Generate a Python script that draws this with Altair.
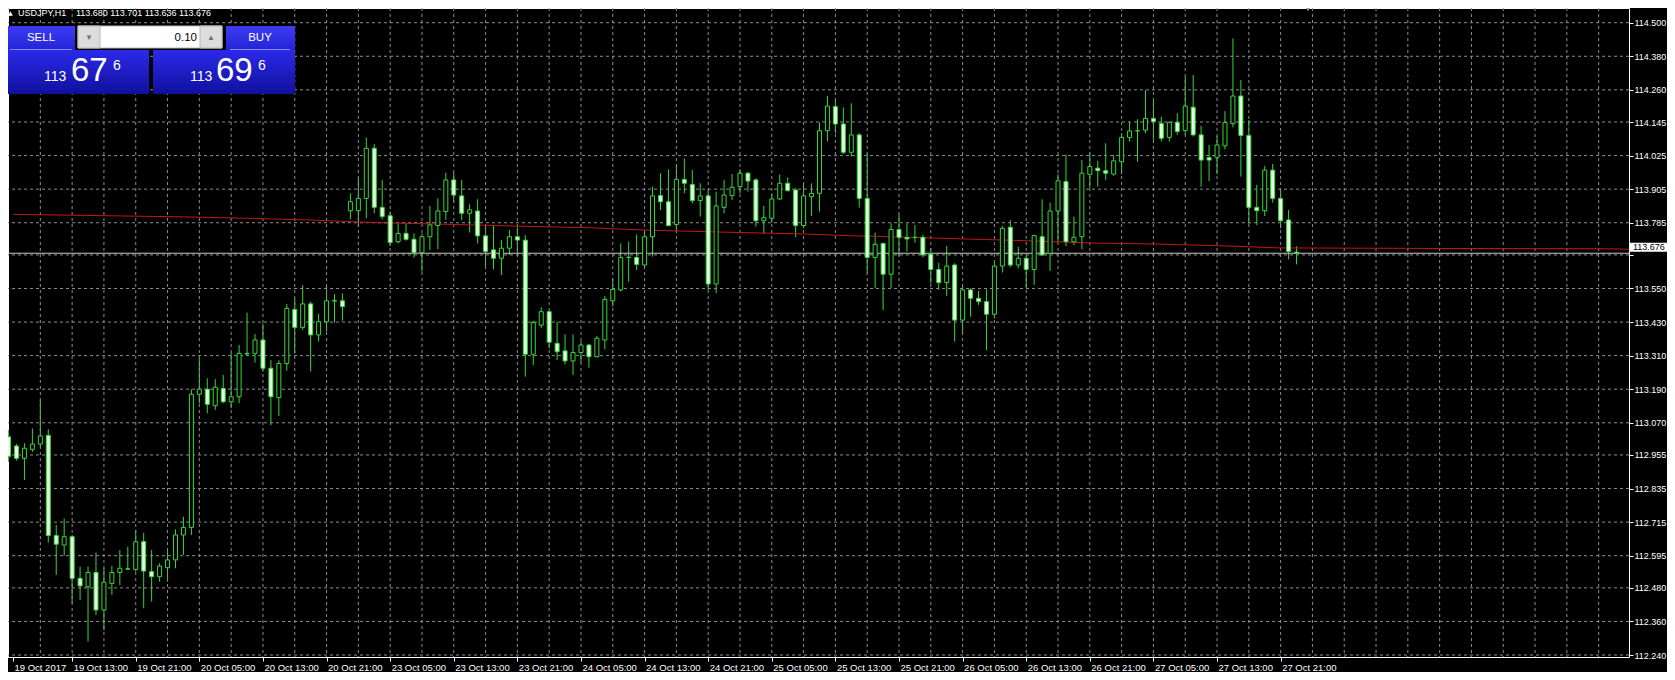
import json
import altair as alt
import pandas as pd

# ---------------- data ----------------
opens = [113.020, 112.987, 112.943, 112.975, 112.994, 113.025, 112.667, 112.633, 112.663, 112.514,
         112.484, 112.535, 112.401, 112.496, 112.535, 112.548, 112.546, 112.645, 112.538, 112.520,
         112.552, 112.580, 112.669, 112.696, 113.172, 113.190, 113.131, 113.193, 113.145, 113.163,
         113.318, 113.318, 113.366, 113.265, 113.160, 113.282, 113.475, 113.411, 113.495, 113.384,
         113.431, 113.505, 113.506, 113.828, 113.828, 113.872, 114.051, 113.840, 113.810, 113.717,
         113.747, 113.726, 113.678, 113.735, 113.775, 113.825, 113.938, 113.881, 113.819, 113.827,
         113.738, 113.688, 113.658, 113.694, 113.735, 113.723, 113.315, 113.419, 113.467, 113.354,
         113.327, 113.291, 113.321, 113.348, 113.306, 113.366, 113.506, 113.545, 113.661, 113.661,
         113.634, 113.735, 113.882, 113.860, 113.779, 113.940, 113.922, 113.864, 113.881, 113.566,
         113.840, 113.882, 113.914, 113.962, 113.938, 113.792, 113.801, 113.870, 113.926, 113.902,
         113.775, 113.878, 113.890, 114.114, 114.200, 114.138, 114.037, 114.099, 113.872, 113.661,
         113.711, 113.601, 113.761, 113.733, 113.732, 113.733, 113.673, 113.618, 113.571, 113.634,
         113.437, 113.545, 113.515, 113.503, 113.458, 113.630, 113.769, 113.634, 113.658, 113.618,
         113.735, 113.676, 113.827, 113.932, 113.717, 113.735, 113.958, 113.980, 113.971, 113.959,
         114.003, 114.090, 114.113, 114.116, 114.158, 114.140, 114.090, 114.144, 114.114, 114.198,
         114.099, 114.018, 114.019, 114.060, 114.140, 114.238, 114.097, 113.840, 113.828, 113.973,
         113.872, 113.795, 113.680]
highs = [113.045, 112.994, 112.997, 113.050, 113.151, 113.047, 112.705, 112.728, 112.669, 112.556,
         112.556, 112.606, 112.550, 112.558, 112.615, 112.627, 112.687, 112.677, 112.615, 112.568,
         112.615, 112.689, 112.734, 113.190, 113.300, 113.229, 113.226, 113.241, 113.321, 113.348,
         113.464, 113.387, 113.425, 113.294, 113.294, 113.495, 113.515, 113.562, 113.503, 113.459,
         113.560, 113.530, 113.533, 113.890, 113.944, 114.090, 114.066, 113.938, 113.825, 113.780,
         113.780, 113.747, 113.747, 113.845, 113.872, 113.964, 113.964, 113.938, 113.851, 113.869,
         113.773, 113.773, 113.723, 113.759, 113.769, 113.741, 113.435, 113.483, 113.471, 113.431,
         113.386, 113.386, 113.362, 113.352, 113.380, 113.523, 113.586, 113.711, 113.717, 113.743,
         113.753, 113.914, 113.962, 113.976, 113.991, 114.015, 113.974, 113.926, 113.902, 113.896,
         113.938, 113.959, 113.976, 113.967, 113.944, 113.845, 113.890, 113.958, 113.947, 113.908,
         113.926, 113.926, 114.143, 114.238, 114.224, 114.197, 114.212, 114.105, 114.033, 113.750,
         113.714, 113.783, 113.815, 113.783, 113.777, 113.742, 113.694, 113.642, 113.702, 113.640,
         113.557, 113.551, 113.542, 113.547, 113.642, 113.773, 113.795, 113.699, 113.666, 113.742,
         113.869, 113.857, 113.959, 114.029, 113.807, 114.009, 114.033, 114.006, 114.069, 114.027,
         114.105, 114.146, 114.155, 114.259, 114.224, 114.164, 114.146, 114.176, 114.307, 114.313,
         114.131, 114.063, 114.095, 114.184, 114.444, 114.295, 114.152, 113.920, 113.988, 113.995,
         113.900, 113.831, 113.701]
lows = [112.930, 112.935, 112.866, 112.966, 112.985, 112.642, 112.526, 112.595, 112.425, 112.437,
        112.288, 112.383, 112.329, 112.455, 112.490, 112.544, 112.538, 112.407, 112.431, 112.502,
        112.502, 112.550, 112.598, 112.669, 113.139, 113.104, 113.116, 113.140, 113.122, 113.140,
        113.309, 113.285, 113.253, 113.062, 113.094, 113.256, 113.318, 113.402, 113.253, 113.360,
        113.396, 113.428, 113.435, 113.797, 113.771, 113.801, 113.819, 113.797, 113.702, 113.711,
        113.721, 113.660, 113.610, 113.688, 113.690, 113.795, 113.860, 113.795, 113.750, 113.711,
        113.630, 113.618, 113.598, 113.670, 113.676, 113.235, 113.276, 113.408, 113.336, 113.294,
        113.279, 113.241, 113.285, 113.267, 113.304, 113.333, 113.485, 113.539, 113.574, 113.616,
        113.628, 113.664, 113.830, 113.771, 113.753, 113.890, 113.854, 113.807, 113.545, 113.533,
        113.819, 113.866, 113.890, 113.896, 113.771, 113.745, 113.785, 113.866, 113.896, 113.733,
        113.765, 113.809, 113.825, 114.075, 114.105, 114.031, 114.021, 113.839, 113.604, 113.551,
        113.473, 113.551, 113.664, 113.682, 113.714, 113.661, 113.568, 113.545, 113.523, 113.360,
        113.390, 113.449, 113.491, 113.330, 113.443, 113.607, 113.626, 113.622, 113.551, 113.563,
        113.666, 113.613, 113.717, 113.702, 113.705, 113.690, 113.910, 113.914, 113.938, 113.953,
        113.959, 114.075, 114.003, 114.105, 114.081, 114.075, 114.075, 114.099, 114.099, 114.093,
        113.914, 113.934, 113.959, 114.047, 114.126, 113.950, 113.781, 113.777, 113.809, 113.857,
        113.765, 113.654, 113.636]
closes = [112.950, 112.943, 112.979, 112.994, 113.023, 112.667, 112.636, 112.663, 112.514, 112.487,
          112.535, 112.401, 112.500, 112.535, 112.550, 112.547, 112.645, 112.540, 112.520, 112.558,
          112.580, 112.669, 112.696, 113.172, 113.190, 113.136, 113.197, 113.145, 113.163, 113.318,
          113.316, 113.366, 113.265, 113.163, 113.282, 113.479, 113.411, 113.495, 113.384, 113.431,
          113.506, 113.507, 113.485, 113.860, 113.872, 114.051, 113.840, 113.807, 113.714, 113.747,
          113.726, 113.678, 113.735, 113.777, 113.827, 113.938, 113.884, 113.819, 113.831, 113.738,
          113.682, 113.658, 113.694, 113.735, 113.723, 113.315, 113.428, 113.467, 113.358, 113.324,
          113.291, 113.321, 113.348, 113.306, 113.372, 113.511, 113.547, 113.661, 113.662, 113.636,
          113.735, 113.881, 113.860, 113.775, 113.940, 113.926, 113.864, 113.881, 113.566, 113.845,
          113.884, 113.912, 113.962, 113.934, 113.792, 113.803, 113.870, 113.926, 113.900, 113.775,
          113.881, 113.890, 114.114, 114.202, 114.138, 114.037, 114.099, 113.872, 113.661, 113.708,
          113.601, 113.761, 113.733, 113.727, 113.733, 113.670, 113.618, 113.571, 113.630, 113.437,
          113.545, 113.515, 113.503, 113.458, 113.630, 113.765, 113.634, 113.658, 113.618, 113.739,
          113.670, 113.827, 113.935, 113.717, 113.733, 113.962, 113.986, 113.971, 113.962, 114.006,
          114.090, 114.113, 114.114, 114.158, 114.146, 114.087, 114.144, 114.111, 114.202, 114.099,
          114.009, 114.009, 114.063, 114.143, 114.238, 114.097, 113.840, 113.828, 113.973, 113.872,
          113.792, 113.682, 113.676]

# moving-average (red) line, shifted forward past the last bar
ma_bars = [0.6, 22, 30, 37.7, 46.6, 55.8, 63.8, 73.2, 80.8, 90.6, 100, 106.3, 109.6, 116.7,
           126.6, 137, 144.3, 153.2, 159.8, 180.8, 200.8, 204.3]
ma_values = [113.815, 113.806, 113.801, 113.795, 113.785, 113.779, 113.773, 113.767, 113.758,
             113.751, 113.745, 113.738, 113.736, 113.730, 113.722, 113.712, 113.709, 113.702,
             113.695, 113.693, 113.692, 113.690]

x_tick_labels = ["19 Oct 2017", "19 Oct 13:00", "19 Oct 21:00", "20 Oct 05:00", "20 Oct 13:00",
                 "20 Oct 21:00", "23 Oct 05:00", "23 Oct 13:00", "23 Oct 21:00", "24 Oct 05:00",
                 "24 Oct 13:00", "24 Oct 21:00", "25 Oct 05:00", "25 Oct 13:00", "25 Oct 21:00",
                 "26 Oct 05:00", "26 Oct 13:00", "26 Oct 21:00", "27 Oct 05:00", "27 Oct 13:00",
                 "27 Oct 21:00"]
y_tick_values = [112.240, 112.360, 112.480, 112.595, 112.715, 112.835, 112.955, 113.070, 113.190,
                 113.310, 113.430, 113.550, 113.670, 113.785, 113.905, 114.025, 114.145, 114.260,
                 114.380, 114.500]

symbol = "USDJPY,H1"
bid_price = 113.676
ask_price = 113.696
lot_size = "0.10"

# ---------------- layout / style ----------------
W, H = 1621, 649
X0 = 0.5625
XDOM = [X0, X0 + W / 8]
YDOM = [112.2329, 114.5525]
FONT = "Liberation Sans"
GREEN = "#34d834"
BEAR_FILL = "#e2ffe2"
GRID = "#8e8e8e"
WHITE = "#ffffff"

xs = alt.Scale(domain=XDOM, nice=False, zero=False)
ys = alt.Scale(domain=YDOM, nice=False, zero=False)

df = pd.DataFrame({"bar": list(range(len(opens))), "open": opens, "high": highs,
                   "low": lows, "close": closes})

xaxis = alt.Axis(
    orient="bottom", title=None, grid=False, domain=False,
    values=[X0] + list(range(8, 161, 8)),
    labelExpr=json.dumps(x_tick_labels) + "[round(datum.value / 8)]",
    tickColor=WHITE, tickSize=4, tickWidth=1,
    labelColor=WHITE, labelFont=FONT, labelFontSize=9.5,
    labelAlign="left", labelBaseline="top", labelPadding=1, labelOffset=1,
    labelOverlap=False, labelFlush=False, labelBound=False,
)
yaxis = alt.Axis(
    orient="right", title=None, grid=False, domain=False,
    values=y_tick_values, format=".3f",
    labelExpr="datum.value == 113.67 ? '' : datum.label",
    tickColor=WHITE, tickSize=4, tickWidth=1,
    labelColor=WHITE, labelFont=FONT, labelFontSize=9,
    labelAlign="left", labelBaseline="middle", labelPadding=1,
    labelOverlap=False, labelFlush=False, labelBound=False,
)


def X(field):
    return alt.X(field, scale=xs, axis=xaxis)


def Y(field):
    return alt.Y(field, scale=ys, axis=yaxis)


hgrid = alt.Chart(pd.DataFrame({"p": y_tick_values})).mark_rule(
    color=GRID, strokeDash=[3, 3], strokeWidth=1
).encode(y=Y("p:Q"))

vgrid = alt.Chart(pd.DataFrame({"g": list(range(4, 205, 4))})).mark_rule(
    color=GRID, strokeDash=[3, 3], strokeWidth=1, clip=True
).encode(x=X("g:Q"))

ma_line = alt.Chart(pd.DataFrame({"bar": ma_bars, "ma": ma_values})).mark_line(
    color="#c01818", strokeWidth=1, clip=True
).encode(x=X("bar:Q"), y=Y("ma:Q"))

price_line = alt.Chart(pd.DataFrame({"p": [closes[-1]]})).mark_rule(
    color="#c8c8c8", strokeWidth=1
).encode(y=Y("p:Q"))

wicks = alt.Chart(df).mark_rule(color=GREEN, strokeWidth=1, clip=True).encode(
    x=X("bar:Q"), y=Y("low:Q"), y2="high:Q",
)

bodies = alt.Chart(df).mark_bar(size=4, stroke=GREEN, strokeWidth=1, clip=True).encode(
    x=X("bar:Q"), y=Y("open:Q"), y2="close:Q",
    fill=alt.condition("datum.close < datum.open", alt.value(BEAR_FILL), alt.value("#000000")),
)

# current price tag on the right scale
tag_df = pd.DataFrame({"p": [closes[-1]], "t": [f"{closes[-1]:.3f}"]})
tag_box = alt.Chart(tag_df).mark_tick(
    color=WHITE, opacity=1, thickness=9, size=38, orient="horizontal", yOffset=-6
).encode(y=Y("p:Q"), x=alt.value(W + 20))
tag_text = alt.Chart(tag_df).mark_text(
    color="#000000", font=FONT, fontSize=9, align="left", baseline="middle", yOffset=-6
).encode(y=Y("p:Q"), x=alt.value(W + 4), text="t:N")

# chart-shift marker
shift_mark = alt.Chart(pd.DataFrame({"k": [0]})).mark_point(
    shape="triangle-down", filled=True, color="#9a9a9a", size=30, opacity=1
).encode(x=alt.value(1300), y=alt.value(1))

# ---------------- one-click trading panel & header ----------------
one = pd.DataFrame({"k": [0]})


def box(x1, y1, x2, y2, fill, **kw):
    return alt.Chart(one).mark_rect(fill=fill, **kw).encode(
        x=alt.value(x1), x2=alt.value(x2), y=alt.value(y1), y2=alt.value(y2))


def txt(x, y, text, size, color=WHITE, align="left", baseline="alphabetic", font=FONT):
    return alt.Chart(one).mark_text(
        text=text, fontSize=size, color=color, align=align, baseline=baseline, font=font
    ).encode(x=alt.value(x), y=alt.value(y))


def grad(c1, c2):
    return alt.Gradient(gradient="linear", x1=0, x2=0, y1=0, y2=1,
                        stops=[alt.GradientStop(offset=0, color=c1),
                               alt.GradientStop(offset=1, color=c2)])


btn = grad("#3c3cf4", "#2424d6")
pbox = grad("#2a2aea", "#10109e")

bid_s = f"{bid_price:.3f}"
ask_s = f"{ask_price:.3f}"

panel = [
    box(-2, 18, 67, 42, btn),
    box(218, 18, 287, 42, btn),
    box(-2, 42, 141, 86, pbox),
    box(145, 42, 287, 86, pbox),
    box(2, 41, 64, 42, "#8a8aff"),
    box(222, 41, 282, 42, "#8a8aff"),
    box(70, 18, 214, 40, "#ffffff", stroke="#b8b8b8", strokeWidth=1),
    box(70, 18, 92, 40, "#dcdcdc", stroke="#b8b8b8", strokeWidth=1),
    box(192, 18, 214, 40, "#dcdcdc", stroke="#b8b8b8", strokeWidth=1),
    txt(81, 29, "▾", 9, color="#707070", align="center", baseline="middle", font="DejaVu Sans"),
    txt(203, 29, "▴", 9, color="#707070", align="center", baseline="middle", font="DejaVu Sans"),
    txt(189, 33, lot_size, 11.5, color="#000000", align="right"),
    txt(33, 33, "SELL", 11.5, align="center"),
    txt(252, 33, "BUY", 11.5, align="center"),
    txt(36, 73, bid_s[:3], 14),
    txt(63, 73, bid_s[4:6], 33),
    txt(105, 62, bid_s[6:], 14),
    txt(182, 73, ask_s[:3], 14),
    txt(208, 73, ask_s[4:6], 33),
    txt(250, 62, ask_s[6:], 14),
    txt(0, 5, "▲", 6, baseline="middle", font="DejaVu Sans"),
    txt(10, 5, symbol, 9, baseline="middle"),
    txt(68, 5, " ".join(f"{v:.3f}" for v in (opens[-1], highs[-1], lows[-1], closes[-1])), 9,
        baseline="middle"),
]

chart = alt.layer(
    wicks, hgrid, vgrid, ma_line, price_line, bodies, tag_box, tag_text, shift_mark, *panel
).properties(
    width=W, height=H, background="#000000",
    padding={"left": 0, "top": 0, "right": 38, "bottom": 15},
    autosize=alt.AutoSizeParams(type="none"),
).configure_view(stroke=WHITE, strokeWidth=1)

chart.save("out.html", embed_options={"renderer": "svg", "actions": False})
